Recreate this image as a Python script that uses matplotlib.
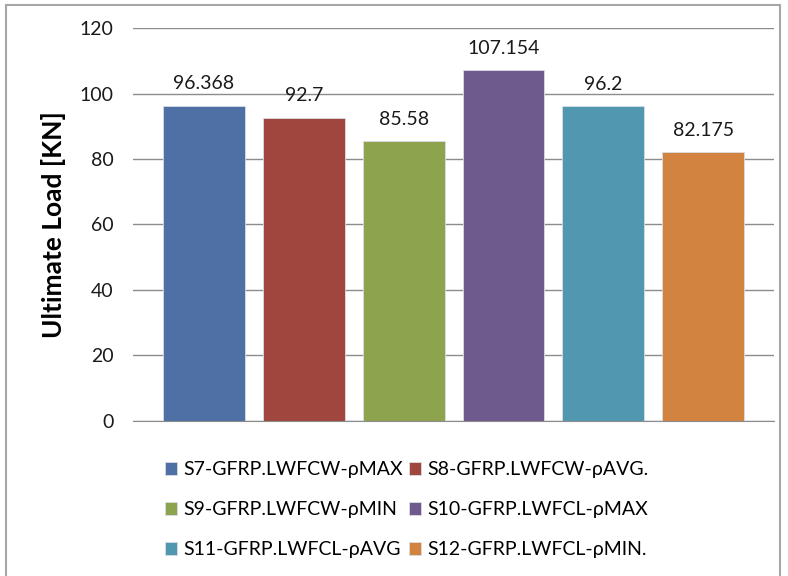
import matplotlib
matplotlib.use("Agg")
import matplotlib.pyplot as plt
from matplotlib.patches import Rectangle

plt.rcParams['font.family'] = ['Lato', 'DejaVu Sans']

# specimens and their ultimate loads
labels = ['S7-GFRP.LWFCW-ρMAX', 'S8-GFRP.LWFCW-ρAVG.', 'S9-GFRP.LWFCW-ρMIN',
          'S10-GFRP.LWFCL-ρMAX', 'S11-GFRP.LWFCL-ρAVG', 'S12-GFRP.LWFCL-ρMIN.']
loads = [96.368, 92.7, 85.58, 107.154, 96.2, 82.175]
value_text = ['96.368', '92.7', '85.58', '107.154', '96.2', '82.175']
colors = ['#4E70A5', '#A0463F', '#8EA34E', '#6F5A8D', '#5197AF', '#D38340']
yticks = [0, 20, 40, 60, 80, 100, 120]

fig = plt.figure(figsize=(7.88, 5.76), dpi=100)
ax = fig.add_axes([0.1688, 0.2696, 0.8135, 0.6813])

handles = []
for i, (lab, val, c) in enumerate(zip(labels, loads, colors)):
    b = ax.bar(i, val, width=0.82, color=c, edgecolor='#d8dde6', linewidth=0.6,
               label=lab, zorder=3)
    handles.append(b)
    ax.text(i, val + 4.0, value_text[i], ha='center', va='bottom',
            fontsize=14, color='#1a1a1a')

ax.set_xlim(-0.71, 5.71)
ax.set_ylim(0, 120)
ax.set_yticks(yticks)
ax.set_xticks([])
ax.yaxis.grid(True, color='#8c8c8c', linewidth=1.0, zorder=0)
for s in ['top', 'right', 'left']:
    ax.spines[s].set_visible(False)
ax.spines['bottom'].set_color('#8c8c8c')
ax.spines['bottom'].set_zorder(4)
ax.tick_params(axis='y', length=0, pad=14, labelsize=14, labelcolor='#1a1a1a')
ax.set_ylabel('Ultimate Load [KN]', fontsize=19, fontweight='bold', labelpad=10)

# legend filled column by column, so reorder to get two per row
order = [0, 2, 4, 1, 3, 5]
fig.legend([handles[k] for k in order], [labels[k] for k in order],
           ncol=2, loc='upper left', bbox_to_anchor=(0.209, 0.199),
           frameon=False, fontsize=14, handlelength=0.65, handleheight=0.65,
           handletextpad=0.3, columnspacing=0.3, labelspacing=1.17,
           borderaxespad=0, borderpad=0)

# thin frame around the whole chart
fig.patches.append(Rectangle((6 / 788, -0.01), 774 / 788, 1 - 5 / 576 + 0.01,
                             transform=fig.transFigure, fill=False,
                             edgecolor='#a6a6a6', linewidth=1.5))

fig.savefig('out.png', dpi=100)
